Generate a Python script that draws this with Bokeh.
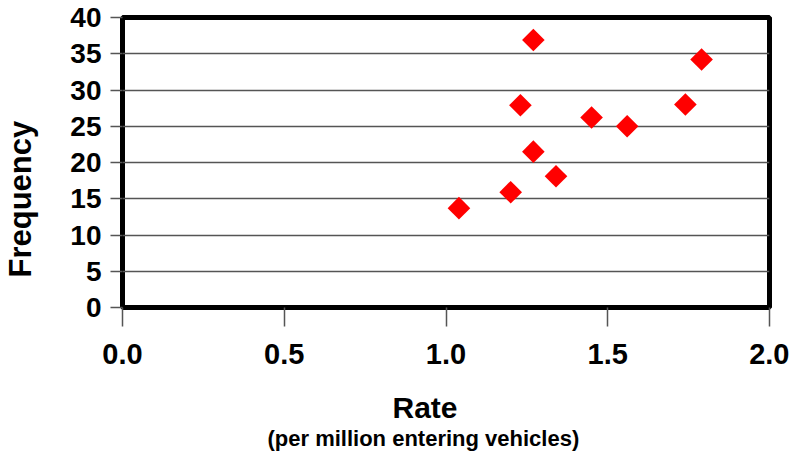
import math
from bokeh.plotting import figure
from bokeh.models import (FixedTicker, Range1d, LinearAxis, Title,
                          CustomJSTickFormatter)
from bokeh.embed import file_html
from bokeh.resources import INLINE

# Data
rate = [1.04, 1.20, 1.23, 1.27, 1.27, 1.34, 1.45, 1.56, 1.74, 1.79]
frequency = [13.7, 15.9, 27.9, 36.9, 21.5, 18.1, 26.2, 25.0, 28.0, 34.2]
x_ticks = [0.0, 0.5, 1.0, 1.5, 2.0]
y_ticks = [0, 5, 10, 15, 20, 25, 30, 35, 40]
x_title = "Rate"
x_subtitle = "(per million entering vehicles)"
y_title = "Frequency"

FONT = "Liberation Sans"

p = figure(
    frame_width=647, frame_height=290,
    min_border_left=122, min_border_right=20, min_border_top=17, min_border_bottom=142,
    x_range=Range1d(0, 2), y_range=Range1d(0, 40),
    output_backend="svg", toolbar_location=None,
)
p.background_fill_color = "white"
p.border_fill_color = "white"
p.outline_line_color = "black"
p.outline_line_width = 5

# grid
p.xgrid.grid_line_color = None
p.ygrid.ticker = FixedTicker(ticks=y_ticks)
p.ygrid.grid_line_color = "#555555"
p.ygrid.grid_line_width = 1.6

# x axis
p.xaxis.ticker = FixedTicker(ticks=x_ticks)
p.xaxis.formatter = CustomJSTickFormatter(code="return tick.toFixed(1);")
p.xaxis.axis_line_color = None
p.xaxis.major_tick_out = 19
p.xaxis.major_tick_in = 0
p.xaxis.major_tick_line_color = "#555555"
p.xaxis.major_tick_line_width = 1.5
p.xaxis.minor_tick_line_color = None
p.xaxis.major_label_text_font = FONT
p.xaxis.major_label_text_font_style = "bold"
p.xaxis.major_label_text_font_size = "29px"
p.xaxis.major_label_text_color = "black"
p.xaxis.major_label_standoff = 17

# y axis
p.yaxis.ticker = FixedTicker(ticks=y_ticks)
p.yaxis.axis_line_color = None
p.yaxis.major_tick_out = 12
p.yaxis.major_tick_in = 0
p.yaxis.major_tick_line_color = "#555555"
p.yaxis.major_tick_line_width = 1.5
p.yaxis.minor_tick_line_color = None
p.yaxis.major_label_text_font = FONT
p.yaxis.major_label_text_font_style = "bold"
p.yaxis.major_label_text_font_size = "28px"
p.yaxis.major_label_text_color = "black"
p.yaxis.major_label_standoff = 9


def spacer(n):
    # an axis drawn in white with a single unlabeled tick: it only reserves
    # n pixels of room in its side panel
    return LinearAxis(ticker=FixedTicker(ticks=[0]), major_tick_out=n, major_tick_in=0,
                      minor_tick_out=0, minor_tick_in=0, major_label_standoff=0,
                      formatter=CustomJSTickFormatter(code="return '';"),
                      major_label_text_font_size="1px",
                      axis_line_color=None, major_tick_line_color="white",
                      minor_tick_line_color=None)


# points
p.scatter(rate, frequency, marker="square", angle=math.pi / 4, size=16,
          fill_color="#ff0000", line_color=None)

# axis titles (placed in the side panels)
p.add_layout(spacer(30), "left")
p.add_layout(Title(text=y_title, align="left", offset=30, vertical_align="bottom",
                   standoff=0, text_font=FONT, text_font_style="bold",
                   text_font_size="31px", text_color="black"), "left")

p.add_layout(spacer(24), "below")
p.add_layout(Title(text=x_title, align="left", offset=270, vertical_align="top",
                   standoff=0, text_font=FONT, text_font_style="bold",
                   text_font_size="30px", text_color="black"), "below")
p.add_layout(Title(text=x_subtitle, align="left", offset=145, vertical_align="top",
                   standoff=0, text_font=FONT, text_font_style="bold",
                   text_font_size="22px", text_color="black"), "below")

open("out.html", "w").write(file_html(p, INLINE))
